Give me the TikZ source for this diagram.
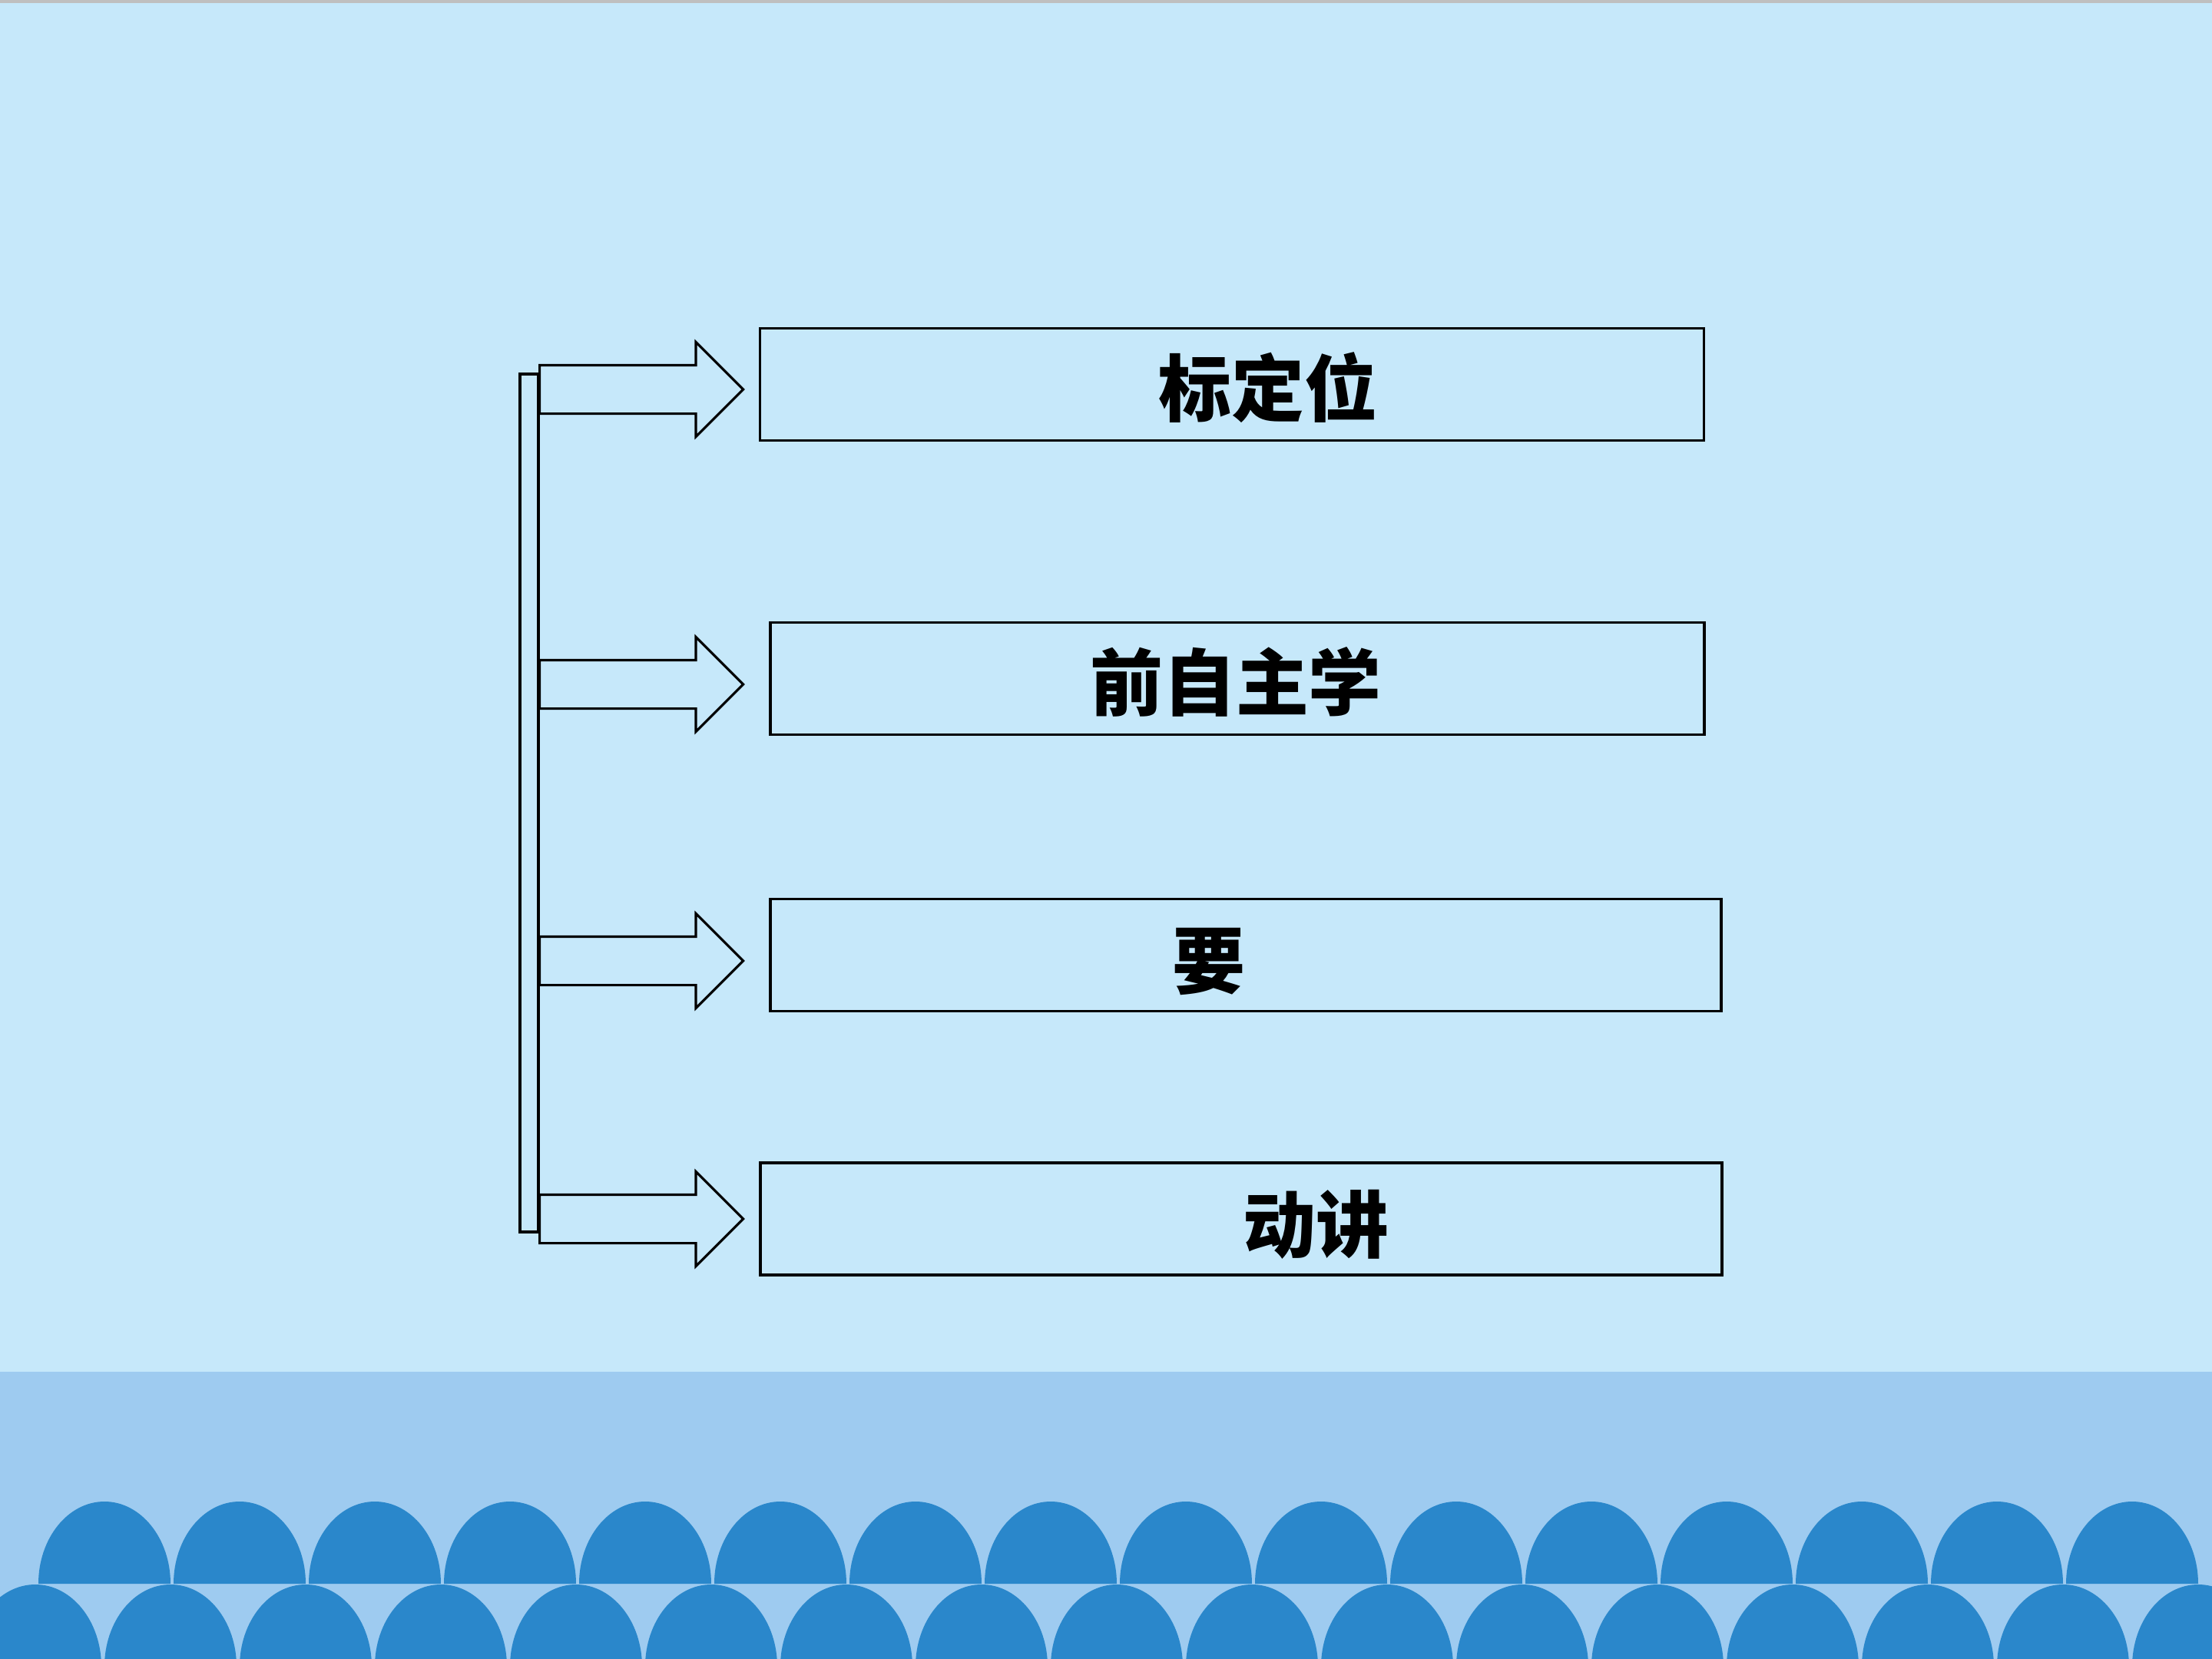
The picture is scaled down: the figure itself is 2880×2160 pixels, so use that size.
\documentclass[tikz,border=0pt]{standalone}
\usepackage{fontspec}
\newfontfamily\cjk{Noto Sans CJK SC}
\usepackage{tikz}
\usetikzlibrary{shapes.arrows, positioning}
\definecolor{skytop}{RGB}{198,232,250}
\definecolor{skyband}{RGB}{158,203,240}
\definecolor{wave}{RGB}{42,135,203}
\tikzstyle{box} = [rectangle, draw, line width=0.9pt, inner sep=0pt, minimum height=14.6mm]
\tikzstyle{bar} = [rectangle, draw, line width=0.9pt, inner sep=0pt,
  minimum width=2.4mm, minimum height=111.7mm]
\tikzstyle{fat} = [single arrow, draw, line width=0.9pt, inner xsep=0pt, inner ysep=3mm,
  anchor=tail, minimum height=26.5mm, minimum width=12mm,
  single arrow head extend=3mm, single arrow tip angle=90]
\tikzstyle{word} = [inner sep=0pt, font=\cjk\bfseries\fontsize{27pt}{31pt}\selectfont]

\begin{document}
\begin{tikzpicture}[x=0.1mm, y=-0.1mm]
  \useasboundingbox (0,0) rectangle (2880,2160);
  \clip (0,0) rectangle (2880,2160);
  % background
  \fill[skytop] (0,0) rectangle (2880,2160);
  \fill[black!25] (0,0) rectangle (2880,4);
  \fill[skyband] (0,1786) rectangle (2880,2160);
  % waves
  \foreach \i in {0,...,16}
    \fill[wave] ({176*\i-40},2170) arc[start angle=180, end angle=360, x radius=86, y radius=107] -- cycle;
  \foreach \i in {0,...,15}
    \fill[wave] ({176*\i+50},2062) arc[start angle=180, end angle=360, x radius=86, y radius=107] -- cycle;

  \node[bar] (bar) at (689,1045.5) {};

  \node[box, minimum width=122.9mm] (aim) at (1604,500.5) {};
  \node[box, minimum width=121.6mm] (pre) at (1611,883.5) {};
  \node[box, minimum width=123.8mm] (key) at (1622,1243.5) {};
  \node[box, minimum width=125.2mm] (talk) at (1616,1587) {};

  \node[fat] (toaim) at (701,507) {};
  \node[fat] (topre) at (701,891) {};
  \node[fat] (tokey) at (701,1251) {};
  \node[fat] (totalk) at (701,1587) {};

  \node[word] (aimtext) at (1651,505) {标定位};
  \node[word] (pretext) at (1609,888) {前自主学};
  \node[word] (keytext) at (1574,1252) {要};
  \node[word] (talktext) at (1713,1594) {动讲};
\end{tikzpicture}
\end{document}
